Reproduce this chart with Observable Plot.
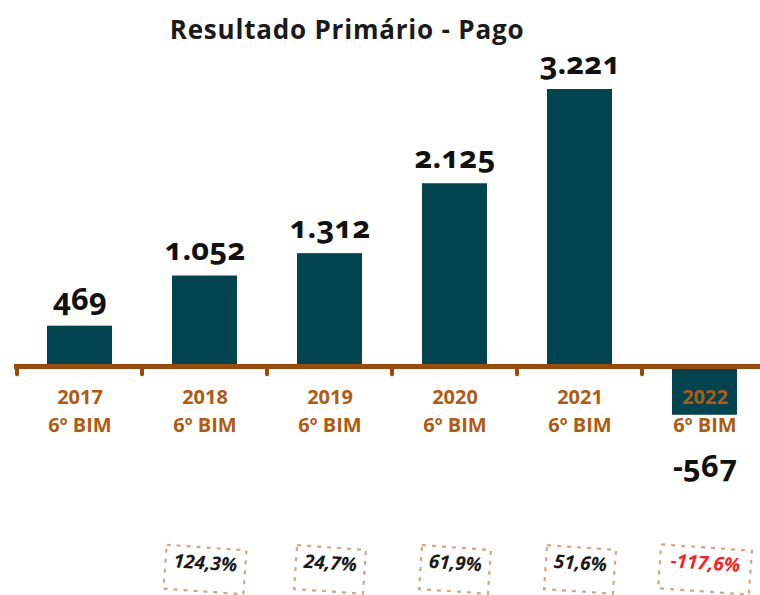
<!DOCTYPE html>
<html><head><meta charset="utf-8">
<script src="https://cdn.jsdelivr.net/npm/d3@7"></script>
<script src="https://cdn.jsdelivr.net/npm/@observablehq/plot@0.6"></script>
<style>
body{margin:0;background:#fff;font-family:"Open Sans",sans-serif;}
#wrap{position:relative;width:760px;height:595px;}
#title{position:absolute;top:11px;left:0;width:694px;text-align:center;font:bold 26px "Open Sans",sans-serif;color:#1a1a1a;letter-spacing:0.8px;z-index:2;}
svg{display:block;}
.onum text{font-variant-numeric:oldstyle-nums;}
</style></head>
<body><div id="wrap"><div id="title">Resultado Primário - Pago</div></div>
<script>
const categories = ["2017","2018","2019","2020","2021","2022"];
const values = [469, 1052, 1312, 2125, 3221, -567];
const tickLabels = ["2017\n6º BIM","2018\n6º BIM","2019\n6º BIM","2020\n6º BIM","2021\n6º BIM","2022\n6º BIM"];
const pctCategories = ["2018","2019","2020","2021","2022"];
const pctLabels = ["124,3%","24,7%","61,9%","51,6%","-117,6%"];
const pctValues = [124.3, 24.7, 61.9, 51.6, -117.6];

const fmt = d3.formatLocale({decimal:",",thousands:".",grouping:[3],currency:["",""],minus:"-"}).format(",d");
const data = categories.map((c,i)=>({cat:c, value:values[i], tick:tickLabels[i]}));
const pct = pctCategories.map((c,i)=>({cat:c, label:pctLabels[i], v:pctValues[i]}));

const brown = "#9C4A0B";
const plot = Plot.plot({
  width: 760, height: 595,
  marginTop: 0, marginBottom: 0, marginLeft: 0, marginRight: 0,
  x: {domain: categories, range: [14, 769], paddingInner: 0.484, paddingOuter: 0.242, axis: null},
  y: {domain: [0, 3221], range: [366, 89], axis: null},
  marks: [
    Plot.barY(data, {x: "cat", y: "value", fill: "#01434F"}),
    Plot.ruleY([0], {stroke: brown, strokeWidth: 5, insetLeft: 14}),
    Plot.ruleX(categories, {x: d=>d, y1: 0, y2: -95, dx: -63, stroke: brown, strokeWidth: 4, strokeLinecap: "round"}),
    Plot.text(data, {x: "cat", y: 0, text: "tick", lineAnchor: "top", dy: 18, lineHeight: 1.4,
      fill: "#B05A12", fontSize: 20, fontWeight: "bold", fontFamily: "Open Sans"}),
    Plot.text(data.filter(d=>d.value>=0), {x: "cat", y: "value", text: d=>fmt(d.value), lineAnchor: "bottom", dy: -16,
      fill: "#111", fontSize: 31, fontWeight: "bold", fontFamily: "Noto Sans", fontVariant: "oldstyle-nums",
      className: "onum"}),
    Plot.text(data.filter(d=>d.value<0), {x: "cat", y: "value", text: d=>fmt(d.value), lineAnchor: "top", dy: 40,
      fill: "#111", fontSize: 31, fontWeight: "bold", fontFamily: "Noto Sans", fontVariant: "oldstyle-nums",
      className: "onum"}),
    Plot.text(pct, {x: "cat", frameAnchor: "bottom", dy: -26, text: "label", rotate: 4,
      fill: d=>d.v<0 ? "#FF2020" : "#1a1a1a", fontSize: 19, fontWeight: "bold", fontStyle: "italic",
      fontFamily: "Open Sans",
      render(index, scales, values, dims, ctx, next) {
        const g = next(index, scales, values, dims, ctx);
        const texts = Array.from(g.querySelectorAll("text"));
        texts.forEach((t, k) => {
          const i = index[k];
          const w = pct[i].label.length * 11 + 14, h = 44;
          const r = document.createElementNS("http://www.w3.org/2000/svg", "rect");
          r.setAttribute("x", -w/2); r.setAttribute("y", -h/2);
          r.setAttribute("width", w); r.setAttribute("height", h);
          r.setAttribute("fill", "none"); r.setAttribute("stroke", "#D0A684");
          r.setAttribute("stroke-width", 2.2); r.setAttribute("stroke-dasharray", "4 6");
          r.setAttribute("transform", t.getAttribute("transform"));
          g.insertBefore(r, t);
        });
        return g;
      }})
  ]
});
plot.style.position = "absolute"; plot.style.top = "0"; plot.style.left = "0";
document.getElementById("wrap").appendChild(plot);
</script></body></html>
